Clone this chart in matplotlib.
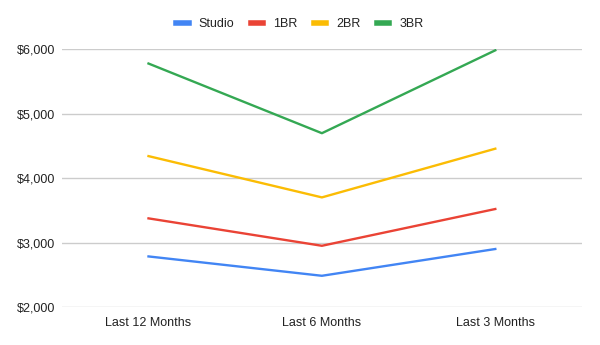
import matplotlib
matplotlib.use("Agg")
import matplotlib.pyplot as plt
from matplotlib.ticker import FuncFormatter

plt.rcParams['font.family'] = ['Liberation Sans', 'DejaVu Sans']

periods = ["Last 12 Months", "Last 6 Months", "Last 3 Months"]
series_names = ["Studio", "1BR", "2BR", "3BR"]
studio = [2790, 2490, 2905]
one_br = [3380, 2955, 3525]
two_br = [4345, 3705, 4460]
three_br = [5780, 4700, 5985]
colors = ["#4285F4", "#EA4335", "#FBBC04", "#34A853"]

fig = plt.figure(figsize=(6, 3.45), dpi=100)
ax = fig.add_axes([0.103, 0.109, 0.867, 0.748])

x = range(len(periods))
for name, vals, c in zip(series_names, [studio, one_br, two_br, three_br], colors):
    ax.plot(x, vals, color=c, linewidth=1.7, label=name)

ax.set_xlim(-0.5, 2.5)
ax.set_ylim(2000, 6000)
ax.set_yticks([2000, 3000, 4000, 5000, 6000])
ax.yaxis.set_major_formatter(FuncFormatter(lambda v, p: f"${v:,.0f}"))
ax.set_xticks(list(x))
ax.set_xticklabels(periods)
ax.tick_params(axis='both', length=0, labelsize=9, colors='#222222')
ax.tick_params(axis='y', pad=5)
ax.tick_params(axis='x', pad=7)
ax.grid(axis='y', color='#cccccc', linewidth=1)
ax.set_axisbelow(True)
for s in ax.spines.values():
    s.set_visible(False)

leg = fig.legend(loc='center', bbox_to_anchor=(0.5, 0.93), ncol=4, frameon=False,
                 fontsize=9, handlelength=1.0, handletextpad=0.8, columnspacing=1.3)
for h in leg.get_lines():
    h.set_linewidth(4)
for t in leg.get_texts():
    t.set_color('#222222')

fig.savefig("out.png", dpi=100)
